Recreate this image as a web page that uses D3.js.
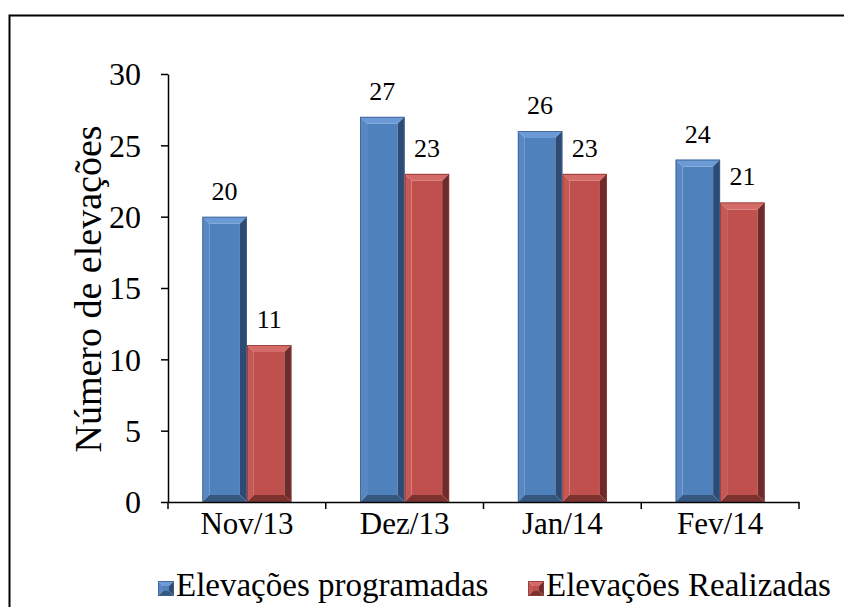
<!DOCTYPE html>
<html>
<head>
<meta charset="utf-8">
<script src="https://cdn.jsdelivr.net/npm/d3@7"></script>
<style>
  html, body { margin: 0; padding: 0; background: #fff; }
  svg text { font-family: 'Liberation Serif', 'DejaVu Serif', serif; fill: #000; }
</style>
</head>
<body>
<script>
// Monthly counts of planned vs. performed elevations
const months = ["Nov/13", "Dez/13", "Jan/14", "Fev/14"];
const programadas = [20, 27, 26, 24];
const realizadas = [11, 23, 23, 21];
const seriesNames = ["Elevações programadas", "Elevações Realizadas"];
const yTicks = [0, 5, 10, 15, 20, 25, 30];

const W = 844, H = 607;
const FONT = "Liberation Serif";
const svg = d3.select("body").append("svg").attr("width", W).attr("height", H);

// chart frame (extends past the right and bottom edges)
svg.append("rect").attr("x", 9.5).attr("y", 15.5).attr("width", 850).attr("height", 600)
  .attr("fill", "none").attr("stroke", "#000").attr("stroke-width", 2);

const plot = { left: 168, right: 799, top: 74, bottom: 502 };

const x = d3.scaleBand().domain(months).range([plot.left, plot.right]).paddingInner(0).paddingOuter(0);
const y = d3.scaleLinear().domain([0, 30]).range([plot.bottom, plot.top]);
const inner = d3.scaleBand().domain([0, 1]).range([0, x.bandwidth()]).paddingOuter(0.77).paddingInner(0);

const palettes = [
  { base: "#4f81bd", top: "#6b9ad6", left: "#5887c4", right: "#2e4c73", bottom: "#36587f", edge: "#3d6290" },
  { base: "#c0504d", top: "#d46b68", left: "#c65855", right: "#6f2b29", bottom: "#7e3230", edge: "#8f3b39" }
];

// bevelled bar made of five facets
function bevelBar(g, x0, x1, y0, y1, pal) {
  const b = Math.min(7, (x1 - x0) / 3, (y1 - y0) / 3);
  const poly = (pts, fill) => g.append("polygon").attr("points", pts.map(p => p.join(",")).join(" ")).attr("fill", fill);
  poly([[x0 + b, y0 + b], [x1 - b, y0 + b], [x1 - b, y1 - b], [x0 + b, y1 - b]], pal.base);
  poly([[x0, y0], [x1, y0], [x1 - b, y0 + b], [x0 + b, y0 + b]], pal.top);
  poly([[x0, y0], [x0 + b, y0 + b], [x0 + b, y1 - b], [x0, y1]], pal.left);
  poly([[x1, y0], [x1, y1], [x1 - b, y1 - b], [x1 - b, y0 + b]], pal.right);
  poly([[x0, y1], [x1, y1], [x1 - b, y1 - b], [x0 + b, y1 - b]], pal.bottom);
  g.append("rect").attr("x", x0 + 0.5).attr("y", y0 + 0.5).attr("width", x1 - x0 - 1).attr("height", y1 - y0 - 1)
    .attr("fill", "none").attr("stroke", pal.edge).attr("stroke-width", 0.8);
}

const data = [programadas, realizadas];
const barsG = svg.append("g");
months.forEach((m, i) => {
  data.forEach((vals, s) => {
    const x0 = x(m) + inner(s), x1 = x0 + inner.bandwidth();
    const g = barsG.append("g");
    bevelBar(g, x0, x1, y(vals[i]), y(0), palettes[s]);
    svg.append("text").attr("x", (x0 + x1) / 2).attr("y", y(vals[i]) - 17)
      .attr("text-anchor", "middle").attr("font-family", FONT).attr("font-size", 26).text(vals[i]);
  });
});

// axes
const yAxis = d3.axisLeft(y).tickValues(yTicks).tickSize(7).tickSizeOuter(0).tickPadding(20);
const yg = svg.append("g").attr("transform", `translate(${plot.left},0)`).call(yAxis)
  .attr("font-family", FONT).attr("font-size", 32);
yg.select(".domain").attr("stroke", "#000").attr("stroke-width", 1.5);
yg.selectAll(".tick line").attr("stroke", "#000").attr("stroke-width", 1.5);
yg.selectAll(".tick text").attr("fill", "#000").attr("dy", "0.34em");

const xg = svg.append("g").attr("transform", `translate(0,${plot.bottom})`)
  .call(d3.axisBottom(x).tickSize(0).tickPadding(10))
  .attr("font-family", FONT).attr("font-size", 31);
xg.select(".domain").attr("stroke", "#000").attr("stroke-width", 1.5);
xg.selectAll(".tick text").attr("fill", "#000");
// category separators below the axis
const seps = months.map(m => x(m)).concat([plot.right]);
svg.append("g").selectAll("line").data(seps).join("line")
  .attr("x1", d => d).attr("x2", d => d).attr("y1", plot.bottom).attr("y2", plot.bottom + 7)
  .attr("stroke", "#000").attr("stroke-width", 1.5);

// y-axis title
svg.append("text").attr("transform", `translate(101,289) rotate(-90)`)
  .attr("text-anchor", "middle").attr("font-family", FONT).attr("font-size", 38).text("Número de elevações");

// legend
const legendX = [158, 528];
seriesNames.forEach((name, s) => {
  const g = svg.append("g");
  bevelBar(g, legendX[s], legendX[s] + 16, 581, 596, palettes[s]);
  svg.append("text").attr("x", legendX[s] + 18).attr("y", 596).attr("font-family", FONT).attr("font-size", 33).text(name);
});
</script>
</body>
</html>
